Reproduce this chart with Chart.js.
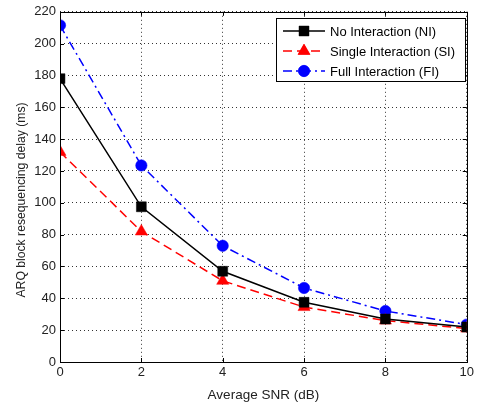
<!DOCTYPE html>
<html><head><meta charset="utf-8">
<script src="https://cdn.jsdelivr.net/npm/chart.js@4/dist/chart.umd.min.js"></script>
<style>html,body{margin:0;padding:0;background:#fff}#w{width:477px;height:403px}</style>
</head><body><div id="w"><canvas id="c" width="477" height="403"></canvas></div>
<script>
const snr = [0, 2, 4, 6, 8, 10];
const noInteraction = [178, 97.5, 57, 37.5, 27, 22];
const singleInteraction = [132, 82, 51, 34.5, 26, 21];
const fullInteraction = [211.5, 123.5, 73, 46.5, 32, 23.5];
const seriesNames = ['No Interaction (NI)', 'Single Interaction (SI)', 'Full Interaction (FI)'];
const xTitle = 'Average SNR (dB)';
const yTitle = 'ARQ block resequencing delay (ms)';
const FONT = '"Liberation Sans", Arial, sans-serif';

function pts(ys){ return snr.map((x,i)=>({x, y: ys[i]})); }

const datasets = [
  {label: seriesNames[0], data: pts(noInteraction), borderColor:'#000', backgroundColor:'#000', borderWidth:1.5, pointStyle:'rect', pointRadius:7, pointBorderWidth:0.5, borderDash:[]},
  {label: seriesNames[1], data: pts(singleInteraction), borderColor:'#ff0000', backgroundColor:'#ff0000', borderWidth:1.5, pointStyle:'triangle', pointRadius:7, pointBorderWidth:0.5, borderDash:[9,5]},
  {label: seriesNames[2], data: pts(fullInteraction), borderColor:'#0000ff', backgroundColor:'#0000ff', borderWidth:1.5, pointStyle:'circle', pointRadius:5.7, pointBorderWidth:0.5, borderDash:[9,4,2,4]}
];

const matlabPlugin = {
  id: 'matlab',
  afterDraw(chart){
    const ctx = chart.ctx, a = chart.chartArea;
    const xs = chart.scales.x, ys = chart.scales.y;
    ctx.save();
    ctx.strokeStyle = '#000'; ctx.lineWidth = 1; ctx.setLineDash([]);
    ctx.strokeRect(Math.round(a.left)+0.5, Math.round(a.top)+0.5, Math.round(a.right-a.left), Math.round(a.bottom-a.top));
    const tl = 4;
    ctx.beginPath();
    xs.ticks.forEach(t=>{ const px = Math.round(xs.getPixelForValue(t.value))+0.5;
      ctx.moveTo(px, a.bottom); ctx.lineTo(px, a.bottom-tl);
      ctx.moveTo(px, a.top); ctx.lineTo(px, a.top+tl); });
    ys.ticks.forEach(t=>{ const py = Math.round(ys.getPixelForValue(t.value))+0.5;
      ctx.moveTo(a.left, py); ctx.lineTo(a.left+tl, py);
      ctx.moveTo(a.right, py); ctx.lineTo(a.right-tl, py); });
    ctx.stroke();
    // y title
    ctx.fillStyle = '#222'; ctx.font = '12.2px ' + FONT;
    ctx.translate(22, 200); ctx.rotate(-Math.PI/2);
    ctx.textAlign = 'center'; ctx.textBaseline = 'middle';
    ctx.fillText(yTitle, 0, 0);
    ctx.restore();
    // legend
    ctx.save();
    const lx = 276.5, ly = 18.5, lw = 189, lh = 63;
    ctx.fillStyle = '#fff'; ctx.fillRect(lx, ly, lw, lh);
    ctx.strokeStyle = '#000'; ctx.lineWidth = 1; ctx.strokeRect(lx, ly, lw, lh);
    datasets.forEach((d,i)=>{
      const y = 31 + i*20;
      ctx.strokeStyle = d.borderColor; ctx.lineWidth = d.borderWidth; ctx.setLineDash(d.borderDash);
      ctx.beginPath(); ctx.moveTo(283, y); ctx.lineTo(325, y); ctx.stroke();
      ctx.setLineDash([]);
      ctx.fillStyle = d.backgroundColor;
      ctx.lineWidth = 0.5;
      Chart.helpers.drawPoint(ctx, {pointStyle: d.pointStyle, radius: d.pointRadius, borderWidth: 0.5}, 304, y);
      ctx.fill();
      ctx.fillStyle = '#000'; ctx.font = '13px ' + FONT; ctx.textBaseline = 'middle'; ctx.textAlign='left';
      ctx.fillText(d.label, 330, y+1);
    });
    ctx.restore();
  }
};

new Chart(document.getElementById('c'), {
  type: 'line',
  data: { datasets },
  options: {
    responsive: false, animation: false,
    layout: { padding: { top: 11, right: 8, left: 0, bottom: 0 } },
    plugins: { legend: { display: false }, tooltip: { enabled: false } },
    elements: { line: { tension: 0 } },
    scales: {
      x: { type: 'linear', min: 0, max: 10,
        ticks: { stepSize: 2, color: '#222', font: { family: FONT, size: 13 }, padding: 3 },
        grid: { color: '#333', lineWidth: 1, drawTicks: false },
        border: { display: false, dash: [1, 3] },
        title: { display: true, text: xTitle, color: '#222', font: { family: FONT, size: 13.5 }, padding: { top: 3, bottom: 0 } },
        afterFit(s){ s.height = 41; } },
      y: { min: 0, max: 220,
        ticks: { stepSize: 20, color: '#222', font: { family: FONT, size: 13 }, padding: 4 },
        grid: { color: '#333', lineWidth: 1, drawTicks: false },
        border: { display: false, dash: [1, 3] },
        afterFit(s){ s.width = 60; } }
    }
  },
  plugins: [matlabPlugin]
});
</script></body></html>
